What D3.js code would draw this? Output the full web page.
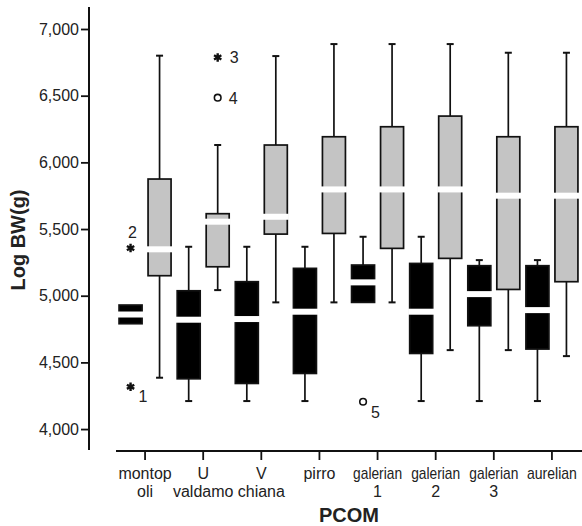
<!DOCTYPE html>
<html>
<head>
<meta charset="utf-8">
<script src="https://cdn.jsdelivr.net/npm/d3@7"></script>
<style>
  body { margin: 0; background: #fff; }
  svg text { font-family: Arial, "Liberation Sans", sans-serif; fill: #222; }
</style>
</head>
<body>
<div id="chart"></div>
<script>
// category labels (two lines where the original wraps)
const categories = ["montopoli", "U valdamo", "V chiana", "pirro", "galerian 1", "galerian 2", "galerian 3", "aurelian"];
const labelLines = [["montop", "oli"], ["U", "valdamo"], ["V", "chiana"], ["pirro"], ["galerian", "1"], ["galerian", "2"], ["galerian", "3"], ["aurelian"]];

// black boxes (left of each tick)
const blackLow  = [4790, 4210, 4210, 4210, 4950, 4210, 4210, 4210];
const blackQ1   = [4790, 4377, 4342, 4417, 4950, 4567, 4775, 4600];
const blackMed  = [4859, 4820, 4825, 4880, 5100, 4880, 5012, 4892];
const blackQ3   = [4930, 5037, 5105, 5205, 5230, 5242, 5225, 5225];
const blackHigh = [4930, 5367, 5367, 5367, 5442, 5442, 5267, 5267];

// grey boxes (right of each tick)
const greyLow  = [4385, 5042, 4950, 4950, 4950, 4592, 4592, 4547];
const greyQ1   = [5150, 5217, 5462, 5467, 5355, 5280, 5047, 5105];
const greyMed  = [5348, 5555, 5592, 5797, 5797, 5797, 5750, 5750];
const greyQ3   = [5875, 5615, 6130, 6192, 6267, 6347, 6192, 6267];
const greyHigh = [6800, 6130, 6797, 6887, 6887, 6887, 6822, 6822];

// outliers
const outCat    = [0, 0, 1, 1, 4];
const outSeries = ["black", "black", "grey", "grey", "black"];
const outValue  = [4317, 5357, 6787, 6485, 4205];
const outId     = ["1", "2", "3", "4", "5"];
const outShape  = ["star", "star", "star", "circle", "circle"];

const yTicks = [4000, 4500, 5000, 5500, 6000, 6500, 7000];

const w = 582, h = 526;
const boxW = 23, offset = 14.5, capW = 7;

const svg = d3.select("#chart").append("svg")
    .attr("width", w)
    .attr("height", h);

const x = d3.scaleBand()
    .domain(categories)
    .range([116, 581]);

const y = d3.scaleLinear()
    .domain([3843, 7165])
    .range([450, 7]);

// y axis
const yAxis = d3.axisLeft(y)
    .tickValues(yTicks)
    .tickFormat(d3.format(","))
    .tickSize(8)
    .tickPadding(2);
const yg = svg.append("g")
    .attr("transform", "translate(89,0)")
    .call(yAxis);
yg.select(".domain").remove();
yg.selectAll(".tick line").attr("stroke", "#111").attr("stroke-width", 1.8);
yg.selectAll(".tick text").style("font-size", "16px").attr("fill", "#222");
svg.append("line")
    .attr("x1", 89).attr("x2", 89)
    .attr("y1", y.range()[1]).attr("y2", y.range()[0])
    .attr("stroke", "#111").attr("stroke-width", 2);

// x axis
const xAxis = d3.axisBottom(x).tickSize(9).tickFormat("");
const xg = svg.append("g")
    .attr("transform", "translate(0,451)")
    .call(xAxis);
xg.select(".domain").remove();
xg.selectAll(".tick line").attr("stroke", "#111").attr("stroke-width", 1.8);
svg.append("line")
    .attr("x1", 116).attr("x2", 582)
    .attr("y1", 451).attr("y2", 451)
    .attr("stroke", "#111").attr("stroke-width", 2);

// category labels; the galerian/aurelian ones are squeezed in the original
const squeeze = {"galerian": 49, "aurelian": 50};
categories.forEach(function(c, i) {
    let cx = x(c) + x.bandwidth() / 2;
    labelLines[i].forEach(function(line, j) {
        let t = svg.append("text")
            .attr("transform", "translate(" + cx + "," + (479 + j * 18) + ")")
            .attr("text-anchor", "middle")
            .style("font-size", "16px")
            .text(line);
        if (squeeze[line]) {
            let sx = squeeze[line] / t.node().getComputedTextLength();
            t.attr("transform", "translate(" + cx + "," + (479 + j * 18) + ") scale(" + sx + ",1)");
        }
    });
});

// axis titles
svg.append("text")
    .attr("x", 349)
    .attr("y", 522)
    .attr("text-anchor", "middle")
    .style("font-size", "20px")
    .style("font-weight", "bold")
    .attr("fill", "#111")
    .text("PCOM");

svg.append("text")
    .attr("transform", "translate(25,240) rotate(-90)")
    .attr("text-anchor", "middle")
    .style("font-size", "20px")
    .style("font-weight", "bold")
    .attr("fill", "#111")
    .text("Log BW(g)");

// boxes
function boxData(low, q1, med, q3, high, series) {
    return categories.map(function(c, i) {
        return {cat: c, low: low[i], q1: q1[i], med: med[i], q3: q3[i], high: high[i], series: series};
    });
}
const boxes = boxData(blackLow, blackQ1, blackMed, blackQ3, blackHigh, "black")
    .concat(boxData(greyLow, greyQ1, greyMed, greyQ3, greyHigh, "grey"));

function cxOf(cat, series) {
    return x(cat) + x.bandwidth() / 2 + (series === "black" ? -offset : offset);
}

const g = svg.append("g");
boxes.forEach(function(d) {
    let cx = cxOf(d.cat, d.series);
    let fill = d.series === "black" ? "#000" : "#c4c4c4";
    if (d.high > d.q3) {
        g.append("line").attr("x1", cx).attr("x2", cx)
            .attr("y1", y(d.high)).attr("y2", y(d.q3))
            .attr("stroke", "#111").attr("stroke-width", 1.7);
        g.append("line").attr("x1", cx - capW / 2).attr("x2", cx + capW / 2)
            .attr("y1", y(d.high)).attr("y2", y(d.high))
            .attr("stroke", "#111").attr("stroke-width", 2);
    }
    if (d.low < d.q1) {
        g.append("line").attr("x1", cx).attr("x2", cx)
            .attr("y1", y(d.q1)).attr("y2", y(d.low))
            .attr("stroke", "#111").attr("stroke-width", 1.7);
        g.append("line").attr("x1", cx - capW / 2).attr("x2", cx + capW / 2)
            .attr("y1", y(d.low)).attr("y2", y(d.low))
            .attr("stroke", "#111").attr("stroke-width", 2);
    }
    let top = y(d.q3), bot = y(d.q1);
    g.append("rect")
        .attr("x", cx - boxW / 2)
        .attr("y", top)
        .attr("width", boxW)
        .attr("height", bot - top)
        .attr("fill", fill)
        .attr("stroke", "#111")
        .attr("stroke-width", 1.7);
    // median drawn as a white gap through the box
    g.append("rect")
        .attr("x", cx - boxW / 2 - 1.5)
        .attr("y", y(d.med) - 3)
        .attr("width", boxW + 3)
        .attr("height", 6)
        .attr("fill", "#fff");
});

// outliers
const labelPlace = {"1": [8, 15, "start"], "2": [2, -10, "middle"], "3": [12, 6, "start"], "4": [11, 6, "start"], "5": [8, 16, "start"]};
outValue.forEach(function(v, i) {
    let cx = cxOf(categories[outCat[i]], outSeries[i]);
    let cy = y(v);
    if (outShape[i] === "star") {
        g.append("path")
            .attr("d", d3.symbol(d3.symbolAsterisk, 50)())
            .attr("transform", "translate(" + cx + "," + cy + ")")
            .attr("fill", "none")
            .attr("stroke", "#111")
            .attr("stroke-width", 2.4);
    } else {
        g.append("circle")
            .attr("cx", cx).attr("cy", cy).attr("r", 3.3)
            .attr("fill", "#fff")
            .attr("stroke", "#111")
            .attr("stroke-width", 1.6);
    }
    let p = labelPlace[outId[i]];
    g.append("text")
        .attr("x", cx + p[0])
        .attr("y", cy + p[1])
        .attr("text-anchor", p[2])
        .style("font-size", "16px")
        .text(outId[i]);
});
</script>
</body>
</html>
